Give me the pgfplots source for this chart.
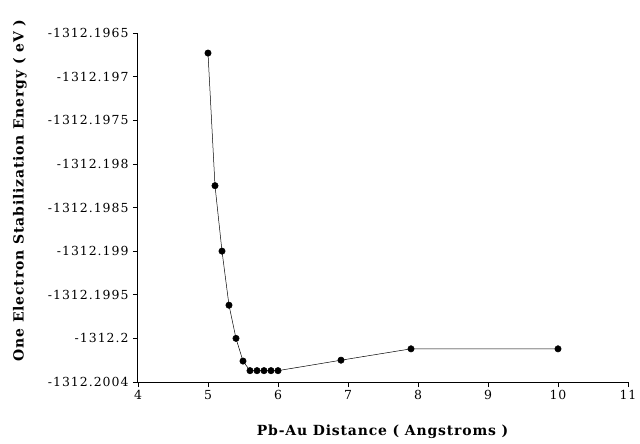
\documentclass[border=0pt]{standalone}
\usepackage{pgfplots}
\pgfplotsset{compat=1.18}
\usepackage{fontspec}
\setmainfont{DejaVu Serif}
\newfontfamily\tickfont{DejaVu Serif}[LetterSpace=8]
\newfontfamily\labfont{DejaVu Serif}[LetterSpace=6]
% y values stored as (E + 1312.2) * 10^4  (eV), to keep full precision
\begin{document}
\begin{tikzpicture}
\path[use as bounding box] (-138bp,-62bp) rectangle (502bp,382bp);
\begin{axis}[
  at={(0,0)}, anchor=south west,
  scale only axis, width=490bp, height=349bp,
  xmin=4, xmax=11, ymin=-5, ymax=35,
  axis x line=bottom, axis y line=left,
  axis line style={-, line width=1pt, black},
  xtick={4,5,6,7,8,9,10,11},
  xticklabels={4,5,6,7,8,9,10,11},
  ytick={-5,0,5,10,15,20,25,30,35},
  yticklabels={-1312.2004,-1312.2,-1312.1995,-1312.199,-1312.1985,-1312.198,-1312.1975,-1312.197,-1312.1965},
  tick align=outside, major tick length=5bp,
  tick style={black, line width=0.6pt},
  ticklabel style={font=\tickfont\fontsize{12.5}{14}\selectfont},
  yticklabel style={xshift=-1bp},
  xlabel={\textbf{Pb-Au Distance ( Angstroms )}},
  ylabel={\textbf{One Electron Stabilization Energy ( eV )}},
  label style={font=\labfont\fontsize{14}{16}\selectfont},
  xlabel style={at={(axis description cs:0.5,-0.143)}, anchor=center},
  ylabel style={at={(axis description cs:-0.241,0.55)}, anchor=center, rotate=0},
  clip=false,
]
\addplot[black, line width=0.5pt, mark=*, mark size=3.2bp] coordinates {
  (5.0,32.7) (5.1,17.5) (5.2,10.0) (5.3,3.8) (5.4,0.0) (5.5,-2.6)
  (5.6,-3.7) (5.7,-3.7) (5.8,-3.7) (5.9,-3.7) (6.0,-3.7)
  (6.9,-2.5) (7.9,-1.2) (10.0,-1.2)
};
\end{axis}
\end{tikzpicture}
\end{document}
